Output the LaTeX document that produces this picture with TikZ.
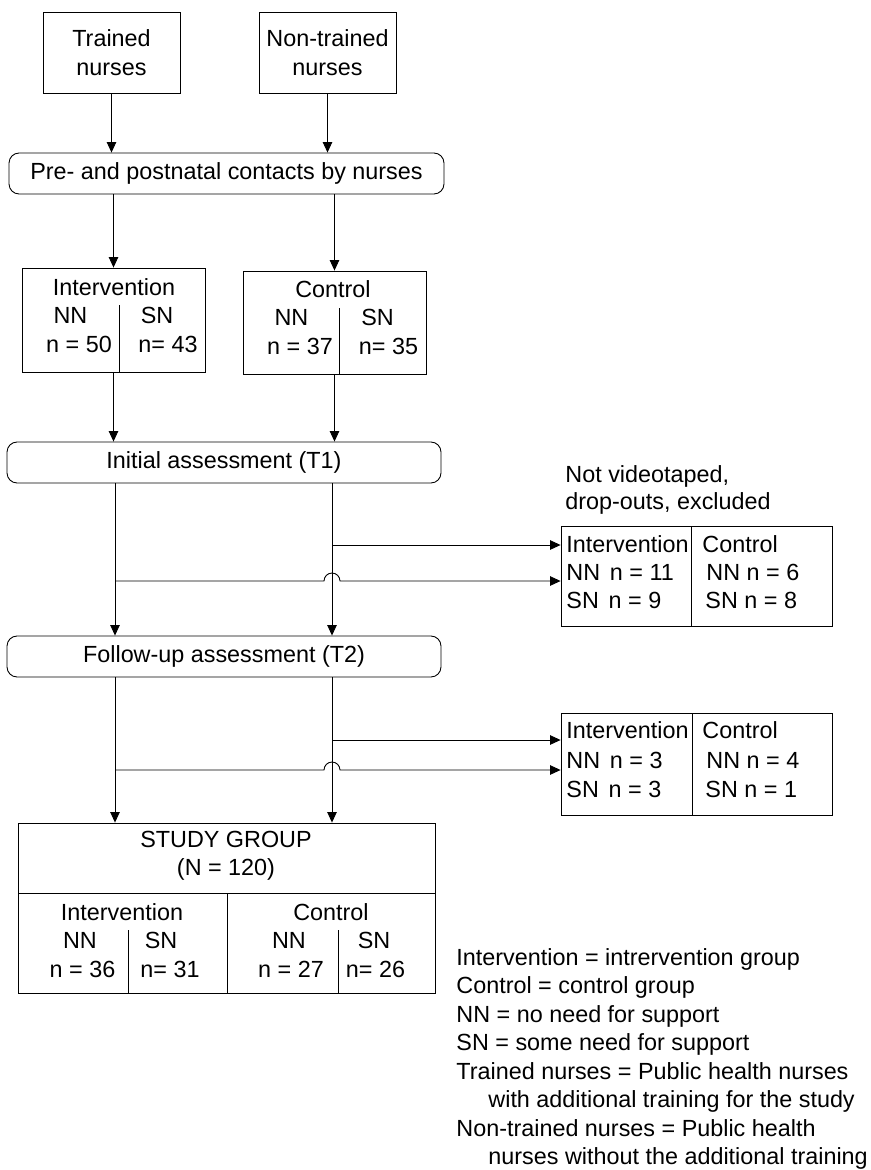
\documentclass[tikz,border=0pt]{standalone}
\usepackage{fontspec}
\setmainfont{Liberation Sans}
\usetikzlibrary{shapes, arrows.meta}
\usetikzlibrary{positioning}

\tikzset{
  box/.style={draw, rectangle, inner sep=0pt},
  rbox/.style={draw, rectangle, rounded corners=0.2cm, inner sep=0pt, minimum width=8.68cm, minimum height=0.82cm},
  lbl/.style={inner sep=0pt, anchor=base},
  lbll/.style={inner sep=0pt, anchor=base west}
}

\begin{document}
\begin{tikzpicture}[x=0.02cm, y=-0.02cm, line width=0.5pt,
  >={Triangle[length=6pt,width=5.4pt]}, font=\fontsize{13.3}{16.2}\selectfont]
\useasboundingbox (0,0) rectangle (871,1170);

% nurses
\node[box, minimum width=2.74cm, minimum height=1.62cm, align=center] (trained) at (111.5,52.5) {Trained\\nurses};
\node[box, minimum width=2.74cm, minimum height=1.62cm, align=center] (nontrained) at (327.5,52.5) {Non-trained\\nurses};
\node[rbox, minimum width=8.7cm] (contacts) at (226.5,173.5) {Pre- and postnatal contacts by nurses};
\draw[->] (trained.south) -- (trained.south |- contacts.north);
\draw[->] (nontrained.south) -- (nontrained.south |- contacts.north);

% groups
\node[box, minimum width=3.66cm, minimum height=2.08cm] (int) at (113.5,320) {};
\node[lbl] (intT) at (114,295) {Intervention};
\node[lbl] (intNN) at (70.5,323) {NN};
\node[lbl] (intSN) at (157,323) {SN};
\node[lbl] (intNNn) at (79,352) {n = 50};
\node[lbl] (intSNn) at (168,352) {n= 43};
\draw (119,305) -- (119,372);

\node[box, minimum width=3.66cm, minimum height=2.06cm] (ctrl) at (334.5,322.5) {};
\node[lbl] (ctrlT) at (333,297) {Control};
\node[lbl] (ctrlNN) at (291.5,325) {NN};
\node[lbl] (ctrlSN) at (377.5,325) {SN};
\node[lbl] (ctrlNNn) at (300,354) {n = 37};
\node[lbl] (ctrlSNn) at (388.5,354) {n= 35};
\draw (339,308) -- (339,374);

\draw[->] (contacts.south -| int.north) -- (int.north);
\draw[->] (contacts.south -| ctrl.north) -- (ctrl.north);

% assessments
\node[rbox] (init) at (224,462.5) {Initial assessment (T1)};
\node[rbox] (follow) at (224,656.5) {Follow-up assessment (T2)};
\draw[->] (int.south) -- (int.south |- init.north);
\draw[->] (ctrl.south) -- (ctrl.south |- init.north);

\coordinate (colL) at (115,0);
\coordinate (colR) at (332,0);
\draw[->] (init.south -| colL) -- (follow.north -| colL);
\draw[->] (init.south -| colR) -- (follow.north -| colR);

% drop-outs
\node[lbll] (nvt1) at (565,482) {Not videotaped,};
\node[lbll] (nvt2) at (565,509) {drop-outs, excluded};

\node[box, minimum width=5.42cm, minimum height=2cm] (excl1) at (696.5,576) {};
\node[lbll] (ex1I) at (566,552) {Intervention};
\node[lbll] (ex1INN) at (566,580) {NN\hspace{0.42em}n = 11};
\node[lbll] (ex1ISN) at (566,608) {SN\hspace{0.42em}n = 9};
\node[lbll] (ex1C) at (702,552) {Control};
\node[lbll] (ex1CNN) at (706,580) {NN n = 6};
\node[lbll] (ex1CSN) at (705,608) {SN n = 8};
\draw (691,526) -- (691,626);

\node[box, minimum width=5.42cm, minimum height=2.04cm] (excl2) at (696.5,764) {};
\node[lbll] (ex2I) at (566,738) {Intervention};
\node[lbll] (ex2INN) at (566,768) {NN\hspace{0.42em}n = 3};
\node[lbll] (ex2ISN) at (566,797) {SN\hspace{0.42em}n = 3};
\node[lbll] (ex2C) at (702,738) {Control};
\node[lbll] (ex2CNN) at (706,768) {NN n = 4};
\node[lbll] (ex2CSN) at (705,797) {SN n = 1};
\draw (692,713) -- (692,815);

\coordinate (drop1a) at (332,545);
\coordinate (drop1b) at (115,581);
\coordinate (jump1) at (324,581);
\draw[->] (drop1a) -- (excl1.west |- drop1a);
\draw[->] (drop1b) -- (jump1) arc[start angle=180, end angle=0, radius=0.16cm] -- (excl1.west |- drop1b);

\coordinate (drop2a) at (332,740);
\coordinate (drop2b) at (115,770);
\coordinate (jump2) at (324,770);
\draw[->] (drop2a) -- (excl2.west |- drop2a);
\draw[->] (drop2b) -- (jump2) arc[start angle=180, end angle=0, radius=0.16cm] -- (excl2.west |- drop2b);

% study group
\node[box, minimum width=8.34cm, minimum height=3.4cm] (study) at (226.5,908) {};
\draw[->] (follow.south -| colL) -- (study.north -| colL);
\draw[->] (follow.south -| colR) -- (study.north -| colR);
\node[lbl] (sgT) at (226,847) {STUDY GROUP};
\node[lbl] (sgN) at (226,875) {(N = 120)};
\draw (18,893) -- (435,893);
\draw (227,893) -- (227,993);
\draw (128,930) -- (128,993);
\draw (338,930) -- (338,993);
\node[lbl] (sgI) at (122,920) {Intervention};
\node[lbl] (sgINN) at (80,948) {NN};
\node[lbl] (sgISN) at (161,948) {SN};
\node[lbl] (sgINNn) at (82.5,977) {n = 36};
\node[lbl] (sgISNn) at (170,977) {n= 31};
\node[lbl] (sgC) at (331,920) {Control};
\node[lbl] (sgCNN) at (289,948) {NN};
\node[lbl] (sgCSN) at (374,948) {SN};
\node[lbl] (sgCNNn) at (291,977) {n = 27};
\node[lbl] (sgCSNn) at (375.5,977) {n= 26};

% legend
\node[lbll] (leg1) at (456,965) {Intervention = intrervention group};
\node[lbll] (leg2) at (456,993.5) {Control = control group};
\node[lbll] (leg3) at (456,1022) {NN = no need for support};
\node[lbll] (leg4) at (456,1050.5) {SN = some need for support};
\node[lbll] (leg5) at (456,1079) {Trained nurses = Public health nurses};
\node[lbll] (leg6) at (488,1107.5) {with additional training for the study};
\node[lbll] (leg7) at (456,1136) {Non-trained nurses = Public health};
\node[lbll] (leg8) at (488,1164.5) {nurses without the additional training};
\end{tikzpicture}
\end{document}
